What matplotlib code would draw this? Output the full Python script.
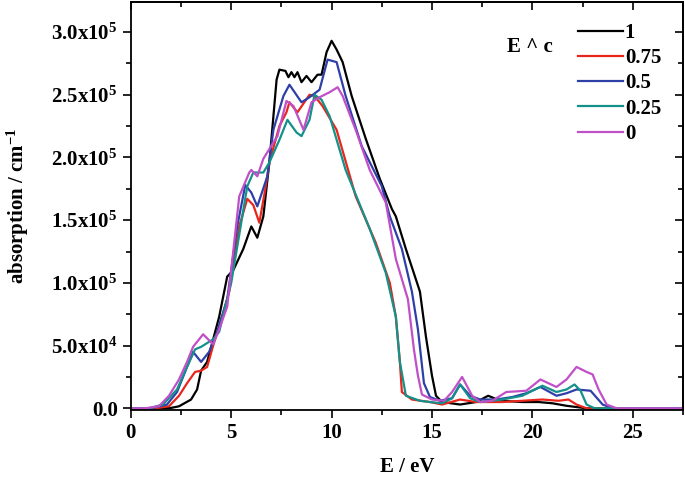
import matplotlib
matplotlib.use("Agg")
import matplotlib.pyplot as plt
from matplotlib.ticker import MultipleLocator, FuncFormatter

plt.rcParams['font.family'] = 'Liberation Serif'
plt.rcParams['font.weight'] = 'bold'
plt.rcParams['mathtext.fontset'] = 'custom'
plt.rcParams['mathtext.rm'] = 'Liberation Serif:bold'
plt.rcParams['mathtext.bf'] = 'Liberation Serif:bold'
plt.rcParams['mathtext.default'] = 'rm'

# absorption, energy in eV, absorption in 1e5 cm^-1
e_1 = [0, 1.5, 2.0, 2.4, 3.0, 3.3, 3.5, 3.8, 4.0, 4.4, 4.8, 5.1, 5.6, 6.0, 6.3, 6.6, 6.9, 7.26, 7.4,
       7.7, 7.85, 8.0, 8.15, 8.3, 8.5, 8.75, 9.0, 9.3, 9.5, 9.75, 10.0, 10.25, 10.55, 11.0, 11.7, 12.4,
       13.0, 13.2, 13.7, 14.4, 14.7, 15.0, 15.2, 15.5, 16.4, 17.2, 17.8, 18.4, 19.5, 20.3, 21.0, 21.7,
       22.7, 27.5]
a_1 = [0, 0, 0.003, 0.016, 0.07, 0.15, 0.3, 0.37, 0.49, 0.73, 1.05, 1.1, 1.27, 1.45, 1.36, 1.53, 1.96,
       2.62, 2.70, 2.69, 2.64, 2.68, 2.64, 2.68, 2.60, 2.65, 2.60, 2.66, 2.66, 2.84, 2.93, 2.86, 2.76,
       2.49, 2.15, 1.83, 1.59, 1.53, 1.27, 0.93, 0.57, 0.26, 0.10, 0.05, 0.03, 0.05, 0.10, 0.06, 0.05,
       0.05, 0.04, 0.02, 0, 0]

e_075 = [0, 1.2, 1.9, 2.4, 2.8, 3.2, 3.5, 3.8, 4.1, 4.6, 4.9, 5.4, 5.8, 6.1, 6.4, 6.7, 6.9, 7.4, 7.75,
         7.9, 8.3, 8.9, 9.15, 9.55, 10.25, 11.2, 12.2, 12.9, 13.2, 13.4, 13.5, 14.0, 14.9, 15.5, 16.4,
         17.2, 18.5, 19.5, 20.5, 21.3, 21.8, 22.2, 22.7, 27.5]
a_075 = [0, 0, 0.016, 0.1, 0.2, 0.29, 0.30, 0.33, 0.5, 0.76, 0.93, 1.45, 1.67, 1.62, 1.48, 1.75, 1.96,
         2.25, 2.36, 2.44, 2.36, 2.50, 2.49, 2.41, 2.22, 1.69, 1.32, 1.0, 0.73, 0.37, 0.13, 0.07, 0.05,
         0.03, 0.07, 0.05, 0.05, 0.06, 0.07, 0.06, 0.07, 0.03, 0, 0]

e_05 = [0, 1.0, 1.8, 2.3, 2.7, 3.1, 3.5, 3.9, 4.3, 4.8, 5.3, 5.7, 6.0, 6.3, 6.8, 7.1, 7.6, 7.9, 8.5,
        8.9, 9.4, 9.8, 10.25, 10.7, 11.5, 12.5, 12.9, 13.5, 14.0, 14.3, 14.6, 14.9, 15.4, 16.0, 16.4,
        16.9, 17.4, 18.2, 19.0, 19.7, 20.4, 21.2, 21.7, 22.2, 22.9, 23.5, 24.0, 27.5]
a_05 = [0, 0, 0.03, 0.13, 0.29, 0.45, 0.37, 0.45, 0.61, 0.87, 1.45, 1.78, 1.72, 1.61, 1.85, 2.22, 2.49,
        2.58, 2.44, 2.48, 2.54, 2.78, 2.76, 2.49, 2.09, 1.77, 1.53, 1.27, 0.93, 0.63, 0.20, 0.09, 0.06,
        0.08, 0.19, 0.10, 0.07, 0.07, 0.09, 0.12, 0.17, 0.10, 0.12, 0.15, 0.14, 0.03, 0, 0]

e_025 = [0, 0.9, 1.6, 2.3, 2.8, 3.2, 3.5, 4.1, 4.4, 5.0, 5.8, 6.1, 6.6, 6.9, 7.4, 7.8, 8.25, 8.5,
         8.9, 9.15, 9.5, 9.9, 10.7, 11.9, 12.7, 13.2, 13.4, 13.7, 14.4, 14.9, 15.5, 16.0, 16.4, 16.9,
         17.4, 18.5, 19.5, 20.5, 21.2, 21.7, 22.1, 22.4, 22.7, 23.1, 27.5]
a_025 = [0, 0, 0.03, 0.15, 0.33, 0.47, 0.49, 0.55, 0.61, 1.0, 1.77, 1.88, 1.88, 1.96, 2.14, 2.30, 2.20,
         2.17, 2.30, 2.50, 2.46, 2.33, 1.90, 1.43, 1.08, 0.73, 0.37, 0.10, 0.06, 0.05, 0.04, 0.08, 0.19,
         0.08, 0.05, 0.07, 0.10, 0.18, 0.13, 0.15, 0.19, 0.14, 0.03, 0, 0]

e_0 = [0, 0.7, 1.4, 1.9, 2.4, 2.8, 3.1, 3.6, 4.1, 4.4, 4.8, 5.4, 5.9, 6.0, 6.3, 6.6, 7.3, 7.75, 8.1,
       8.6, 9.0, 9.4, 9.9, 10.3, 10.55, 11.2, 11.9, 12.7, 13.2, 13.8, 14.1, 14.3, 14.5, 15.0, 15.6,
       16.0, 16.5, 17.0, 17.4, 18.0, 18.7, 19.7, 20.4, 21.2, 21.7, 22.2, 22.7, 23.0, 23.3, 23.7, 24.2,
       27.5]
a_0 = [0, 0, 0.016, 0.1, 0.23, 0.37, 0.49, 0.59, 0.51, 0.63, 0.81, 1.69, 1.88, 1.90, 1.85, 1.99, 2.17,
       2.45, 2.41, 2.22, 2.44, 2.48, 2.52, 2.56, 2.49, 2.22, 1.90, 1.64, 1.19, 0.87, 0.47, 0.26, 0.11,
       0.07, 0.06, 0.13, 0.25, 0.10, 0.05, 0.06, 0.13, 0.14, 0.23, 0.17, 0.23, 0.33, 0.29, 0.27, 0.15,
       0.03, 0, 0]

labels = ['1', '0.75', '0.5', '0.25', '0']
colors = ['black', '#e8261c', '#2e40a8', '#13918a', '#c04fc8']
series = [(e_1, a_1), (e_075, a_075), (e_05, a_05), (e_025, a_025), (e_0, a_0)]

fig = plt.figure(figsize=(6.85, 4.82), dpi=100)
ax = fig.add_axes([0.191, 0.149, 0.806, 0.847])

for (e, a), lab, c in zip(series, labels, colors):
    ax.plot(e, [v * 1e5 for v in a], color=c, lw=1.6, label=lab)

ax.set_xlim(0, 27.5)
ax.set_ylim(-1500, 3.24e5)
ax.xaxis.set_major_locator(MultipleLocator(5))
ax.xaxis.set_minor_locator(MultipleLocator(2.5))
ax.yaxis.set_major_locator(MultipleLocator(5e4))
ax.yaxis.set_minor_locator(MultipleLocator(2.5e4))


def yfmt(v, pos):
    if abs(v) < 1:
        return '0.0'
    exp = len(str(int(round(v)))) - 1
    return '%.1fx10$^{%d}$' % (v / 10 ** exp, exp)


ax.yaxis.set_major_formatter(FuncFormatter(yfmt))
ax.tick_params(which='both', direction='out', labelsize=15, width=1.2)
ax.tick_params(which='major', length=6)
ax.tick_params(which='minor', length=3.5)

# opposite ticks point inwards
sx = ax.secondary_xaxis('top')
sx.xaxis.set_major_locator(MultipleLocator(5))
sx.xaxis.set_minor_locator(MultipleLocator(2.5))
sx.tick_params(which='both', direction='in', width=1.2, labeltop=False)
sx.tick_params(which='major', length=6)
sx.tick_params(which='minor', length=3.5)
sy = ax.secondary_yaxis('right')
sy.yaxis.set_major_locator(MultipleLocator(5e4))
sy.yaxis.set_minor_locator(MultipleLocator(2.5e4))
sy.tick_params(which='both', direction='in', width=1.2, labelright=False)
sy.tick_params(which='major', length=6)
sy.tick_params(which='minor', length=3.5)
for s in (sx, sy):
    for sp in s.spines.values():
        sp.set_linewidth(1.3)
for lab in ax.get_xticklabels() + ax.get_yticklabels():
    lab.set_fontweight('bold')
for sp in ax.spines.values():
    sp.set_linewidth(1.3)

ax.set_xlabel('E / eV', fontsize=15, fontweight='bold', labelpad=10)
ax.set_ylabel('absorption / cm$^{-1}$', fontsize=15, fontweight='bold', labelpad=14)

leg = ax.legend(loc='upper left', bbox_to_anchor=(578 / 685, 1 - 23 / 482),
                bbox_transform=fig.transFigure, frameon=False, fontsize=15,
                handlelength=2.15, handletextpad=0.1, labelspacing=0.25,
                borderpad=0, borderaxespad=0)
fig.text(507 / 685, 1 - 47 / 482, 'E ^ c', fontsize=15, fontweight='bold',
         ha='left', va='center')

fig.savefig('out.png', dpi=100)
